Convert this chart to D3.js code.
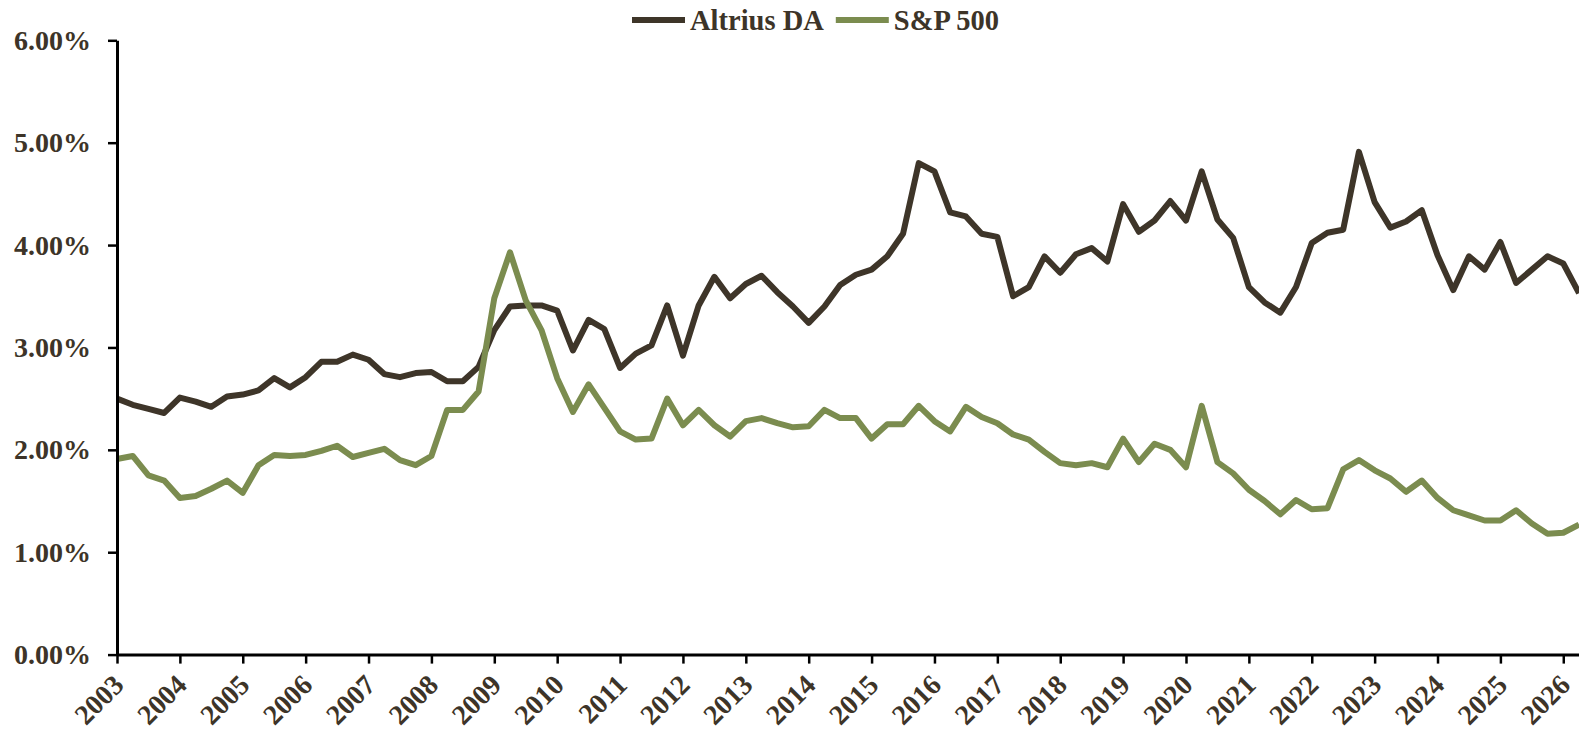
<!DOCTYPE html>
<html>
<head>
<meta charset="utf-8">
<script src="https://cdnjs.cloudflare.com/ajax/libs/d3/7.8.5/d3.min.js"></script>
<style>
  html, body { margin: 0; padding: 0; background: #fff; overflow: hidden; }
  text { font-family: "Liberation Serif", "Times New Roman", serif; font-weight: bold; fill: #3d3428; }
</style>
</head>
<body>
<div id="chart"></div>
<script>
// quarterly dividend yield, first point = Q1 2003
let startYear = 2003
let seriesNames = ['Altrius DA', 'S&P 500']
let seriesColors = ['#3e3529', '#7b8c4f']

let altrius = [
  2.50, 2.44, 2.40, 2.36,
  2.51, 2.47, 2.42, 2.52,
  2.54, 2.58, 2.70, 2.61,
  2.71, 2.86, 2.86, 2.93,
  2.88, 2.74, 2.71, 2.75,
  2.76, 2.67, 2.67, 2.81,
  3.17, 3.40, 3.41, 3.41,
  3.36, 2.97, 3.27, 3.18,
  2.80, 2.94, 3.02, 3.41,
  2.92, 3.41, 3.69, 3.48,
  3.62, 3.70, 3.54, 3.40,
  3.24, 3.40, 3.61, 3.71,
  3.76, 3.89, 4.11, 4.80,
  4.72, 4.32, 4.28, 4.11,
  4.08, 3.50, 3.59, 3.89,
  3.73, 3.91, 3.97, 3.84,
  4.40, 4.13, 4.24, 4.43,
  4.24, 4.72, 4.25, 4.07,
  3.59, 3.44, 3.34, 3.59,
  4.02, 4.12, 4.15, 4.91,
  4.42, 4.17, 4.23, 4.34,
  3.90, 3.56, 3.89, 3.76,
  4.03, 3.63, 3.76, 3.89,
  3.82, 3.53
]

let sp500 = [
  1.91, 1.94, 1.75, 1.70,
  1.53, 1.55, 1.62, 1.70,
  1.58, 1.85, 1.95, 1.94,
  1.95, 1.99, 2.04, 1.93,
  1.97, 2.01, 1.90, 1.85,
  1.94, 2.39, 2.39, 2.57,
  3.48, 3.93, 3.46, 3.17,
  2.70, 2.37, 2.64, 2.41,
  2.18, 2.10, 2.11, 2.50,
  2.24, 2.39, 2.24, 2.13,
  2.28, 2.31, 2.26, 2.22,
  2.23, 2.39, 2.31, 2.31,
  2.11, 2.25, 2.25, 2.43,
  2.28, 2.18, 2.42, 2.32,
  2.26, 2.15, 2.10, 1.98,
  1.87, 1.85, 1.87, 1.83,
  2.11, 1.88, 2.06, 2.00,
  1.83, 2.43, 1.88, 1.77,
  1.61, 1.50, 1.37, 1.51,
  1.42, 1.43, 1.81, 1.90,
  1.80, 1.72, 1.59, 1.70,
  1.53, 1.41, 1.36, 1.31,
  1.31, 1.41, 1.28, 1.18,
  1.19, 1.27
]

let yearTicks = d3.range(2003, 2027)
let yTicks = [0, 0.01, 0.02, 0.03, 0.04, 0.05, 0.06]

let width = 1579, height = 733
let margin = { top: 40.3, right: 0, bottom: 78.4, left: 117 }

let svg = d3.select('#chart')
  .append('svg')
  .attr('width', width)
  .attr('height', height)

let lastX = startYear + (altrius.length - 1) / 4

let x = d3.scaleLinear()
  .domain([startYear, lastX])
  .range([margin.left, width - margin.right])

let y = d3.scaleLinear()
  .domain([0, 0.06])
  .range([height - margin.bottom, margin.top])

// lines
let toPoints = arr => arr.map((v, i) => ({ t: startYear + i / 4, v: v / 100 }))
let line = d3.line()
  .x(d => x(d.t))
  .y(d => y(d.v))

let lines = [altrius, sp500]
svg.append('g')
  .selectAll('path')
  .data(lines)
  .enter()
  .append('path')
  .attr('d', d => line(toPoints(d)))
  .attr('fill', 'none')
  .attr('stroke', (d, i) => seriesColors[i])
  .attr('stroke-width', 6)
  .attr('stroke-linejoin', 'round')

// y axis
let yAxis = svg.append('g')
  .attr('transform', `translate(${margin.left}, 0)`)
  .call(d3.axisLeft(y).tickValues(yTicks).tickFormat(d3.format('.2%')).tickSize(9).tickSizeOuter(0).tickPadding(17))
yAxis.select('.domain').attr('stroke', '#000').attr('stroke-width', 3)
yAxis.selectAll('.tick line').attr('stroke', '#000').attr('stroke-width', 2.5)
yAxis.selectAll('.tick text')
  .style('font-size', '28px')
  .attr('fill', null)

// x axis
let xAxis = svg.append('g')
  .attr('transform', `translate(0, ${height - margin.bottom})`)
  .call(d3.axisBottom(x).tickValues(yearTicks).tickFormat(d3.format('d')).tickSize(9).tickSizeOuter(0))
xAxis.select('.domain').attr('stroke', '#000').attr('stroke-width', 3)
xAxis.selectAll('.tick line').attr('stroke', '#000').attr('stroke-width', 2.5)
xAxis.selectAll('.tick text')
  .style('font-size', '28px')
  .attr('fill', null)
  .attr('y', 0)
  .attr('dy', 0)
  .attr('text-anchor', 'end')
  .attr('transform', 'translate(8, 32) rotate(-45)')

// legend
let legend = svg.append('g').attr('transform', 'translate(632, 20)')
let lx = 0
seriesNames.forEach((name, i) => {
  let g = legend.append('g').attr('transform', `translate(${lx}, 0)`)
  g.append('line')
    .attr('x1', 0).attr('x2', 53)
    .attr('stroke', seriesColors[i])
    .attr('stroke-width', 6)
  let t = g.append('text')
    .attr('x', 58)
    .attr('dy', '0.35em')
    .style('font-size', '28.5px')
    .text(name)
  lx += 58 + t.node().getComputedTextLength() + 12
})
</script>
</body>
</html>
